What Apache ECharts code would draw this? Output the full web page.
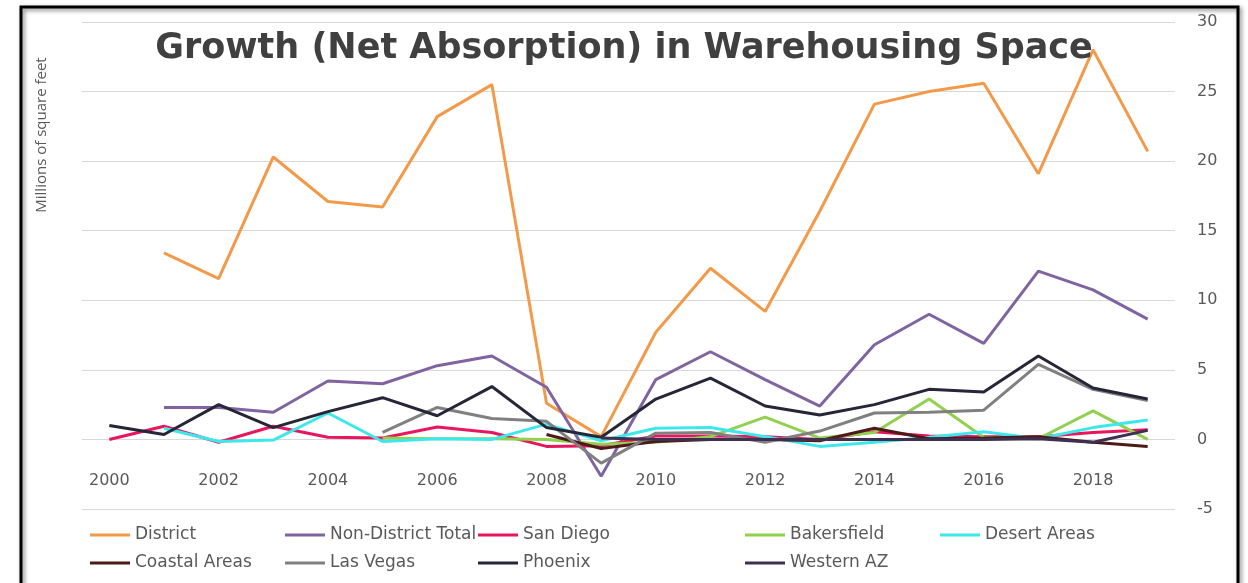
<!DOCTYPE html>
<html>
<head>
<meta charset="utf-8">
<script src="https://cdn.jsdelivr.net/npm/echarts@6/dist/echarts.min.js"></script>
<style>
html,body{margin:0;padding:0;background:#fff;}
#chart{width:1248px;height:583px;}
</style>
</head>
<body>
<div id="chart"></div>
<script>
const years = ['2000','2001','2002','2003','2004','2005','2006','2007','2008','2009','2010','2011','2012','2013','2014','2015','2016','2017','2018','2019'];
const yTicks = [-5, 0, 5, 10, 15, 20, 25, 30];
const district      = [null,13.4,11.55,20.3,17.1,16.7,23.2,25.5,2.6,0.2,7.7,12.3,9.2,16.4,24.1,25.0,25.6,19.1,28.0,20.7];
const nonDistrict   = [null,2.3,2.3,1.95,4.2,4.0,5.3,6.0,3.75,-2.65,4.3,6.3,4.3,2.4,6.8,9.0,6.9,12.1,10.75,8.65];
const sanDiego      = [0,0.95,-0.2,0.95,0.15,0.1,0.9,0.5,-0.5,-0.45,0.25,0.25,0.2,0,0.55,0.25,0.2,0.2,0.5,0.7];
const bakersfield   = [null,null,null,null,null,0.1,0.05,0.05,0.0,-0.35,-0.2,0.2,1.6,0.1,0.5,2.9,0.15,0.05,2.05,0.0];
const desertAreas   = [null,0.8,-0.15,-0.05,1.9,-0.15,0.05,0.0,1.1,-0.1,0.8,0.85,0.2,-0.5,-0.2,0.15,0.55,0.05,0.85,1.4];
const coastalAreas  = [null,null,null,null,null,null,null,null,0.35,-0.65,-0.15,0.0,0.0,-0.1,0.8,0.05,0.1,0.2,-0.2,-0.5];
const lasVegas      = [null,null,null,null,null,0.5,2.3,1.5,1.3,-1.7,0.45,0.5,-0.2,0.6,1.9,1.95,2.1,5.4,3.6,2.8];
const phoenix       = [1.0,0.35,2.5,0.85,2.0,3.0,1.7,3.8,0.85,0.15,2.9,4.4,2.4,1.75,2.5,3.6,3.4,6.0,3.7,2.9];
const westernAZ     = [null,null,null,null,null,null,null,null,null,0.1,0.0,0.0,0.0,0.0,0.0,0.0,0.0,0.05,-0.2,0.65];

const seriesDefs = [
  {name:'District', data:district, color:'#f39a4a'},
  {name:'Non-District Total', data:nonDistrict, color:'#8064a2'},
  {name:'San Diego', data:sanDiego, color:'#e8175d'},
  {name:'Bakersfield', data:bakersfield, color:'#92d050'},
  {name:'Desert Areas', data:desertAreas, color:'#3de8ec'},
  {name:'Coastal Areas', data:coastalAreas, color:'#4d1a1a'},
  {name:'Las Vegas', data:lasVegas, color:'#808080'},
  {name:'Phoenix', data:phoenix, color:'#262638'},
  {name:'Western AZ', data:westernAZ, color:'#3d3050'}
];

const legendText = {color:'#595959', fontSize:17, fontFamily:'DejaVu Sans', lineHeight:20};
function legendCol(names, left){
  return {orient:'vertical', left:left, top:525, itemWidth:40, itemHeight:3, itemGap:8,
    icon:'rect', data:names, textStyle:legendText, padding:0, selectedMode:false};
}

const chart = echarts.init(document.getElementById('chart'));
chart.setOption({
  backgroundColor:'#fff',
  animation:false,
  title:{text:'Growth (Net Absorption) in Warehousing Space', left:'center', top:26,
    textStyle:{fontFamily:'DejaVu Sans', fontWeight:'bold', fontSize:35, color:'#404040'}},
  graphic:[
    {type:'rect', shape:{x:21,y:7,width:1217,height:590}, style:{fill:'none', stroke:'#000', lineWidth:3, shadowBlur:4, shadowColor:'rgba(0,0,0,0.5)', shadowOffsetX:2, shadowOffsetY:2}, z:100},
    {type:'text', x:42, y:135, rotation:Math.PI/2, style:{text:'Millions of square feet', fill:'#595959', fontSize:15, fontFamily:'Liberation Sans Narrow, Open Sans', align:'center', verticalAlign:'middle'}}
  ],
  legend:[
    legendCol(['District','Coastal Areas'], 90),
    legendCol(['Non-District Total','Las Vegas'], 285),
    legendCol(['San Diego','Phoenix'], 478),
    legendCol(['Bakersfield','Western AZ'], 745),
    legendCol(['Desert Areas'], 940)
  ],
  grid:{left:82, right:73, top:22, bottom:74},
  xAxis:{type:'category', data:years, boundaryGap:true, offset:-44,
    axisLine:{show:false}, axisTick:{show:false},
    axisLabel:{interval:1, color:'#595959', fontSize:16, fontFamily:'DejaVu Sans', margin:8}},
  yAxis:{type:'value', position:'right', min:yTicks[0], max:yTicks[yTicks.length-1], interval:5,
    axisLine:{show:false}, axisTick:{show:false},
    axisLabel:{color:'#595959', fontSize:16, fontFamily:'DejaVu Sans', margin:22},
    splitLine:{lineStyle:{color:'#d9d9d9', width:1}}},
  series: seriesDefs.map(s => ({name:s.name, type:'line', data:s.data, symbol:'none',
    connectNulls:false, lineStyle:{color:s.color, width:3}, itemStyle:{color:s.color}}))
});
</script>
</body>
</html>
